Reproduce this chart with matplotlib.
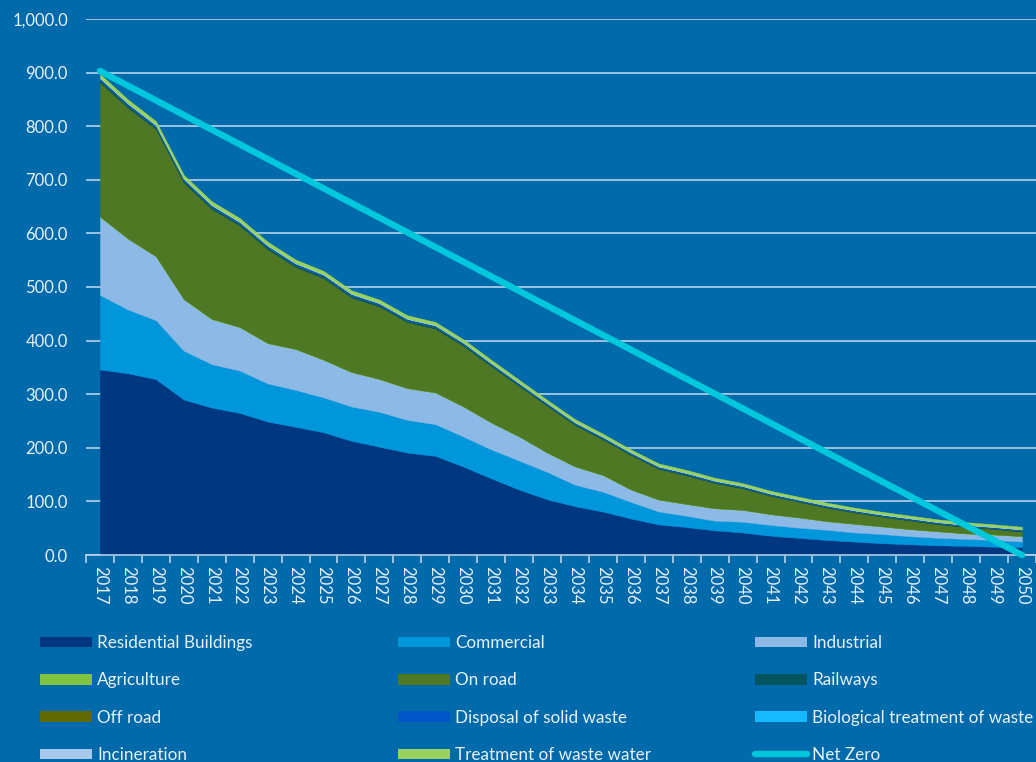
import numpy as np
import matplotlib.pyplot as plt
from matplotlib.patches import Patch
from matplotlib.lines import Line2D
from matplotlib.ticker import FuncFormatter

plt.rcParams['font.family'] = ['Lato', 'DejaVu Sans']

# emissions by sector, stacked in this order
years = list(range(2017, 2051))

residential = [346, 339, 328, 290, 275, 265, 249, 239, 229, 213, 202, 191, 185, 165, 143, 122, 104,
               91, 81, 68, 57, 52, 46, 42, 36, 32, 28, 25, 22, 20, 18, 17, 15.5, 14.5]
commercial = [139, 119, 110, 91, 81, 79, 71, 69, 65, 64, 65, 61, 59, 56, 54, 54, 51,
              40, 37, 31, 24, 21, 18, 20, 20, 19, 19, 17, 17, 15, 14, 13, 12.5, 10.5]
industrial = [146, 132, 119, 96, 84, 81, 75, 76, 70, 64, 61, 59, 59, 56, 50, 45, 36,
              34, 31, 23, 22, 22, 23, 22, 20, 19, 16, 16, 14, 13, 12, 10, 10, 10]
agriculture = [0.6, 0.6, 0.6, 0.5, 0.5, 0.5, 0.5, 0.5, 0.5, 0.5, 0.5, 0.5, 0.4, 0.4, 0.4, 0.4, 0.4,
               0.4, 0.4, 0.4, 0.4, 0.3, 0.3, 0.3, 0.3, 0.3, 0.3, 0.3, 0.3, 0.3, 0.3, 0.3, 0.3, 0.3]
on_road = [250, 244, 237, 217, 205, 189, 175, 153, 152, 139, 135, 123, 119, 113, 105, 94, 87,
           77, 66, 64, 57, 53, 47, 40, 34, 29, 25, 21, 18, 16, 13, 12, 10, 8.5]
railways = [3.0, 2.9, 2.9, 2.8, 2.8, 2.7, 2.7, 2.6, 2.6, 2.6, 2.5, 2.4, 2.4, 2.3, 2.2, 2.1, 2.0,
            2.0, 1.9, 1.8, 1.8, 1.7, 1.7, 1.7, 1.6, 1.6, 1.6, 1.5, 1.5, 1.5, 1.5, 1.5, 1.5, 1.5]
off_road = [0.8, 0.8, 0.7, 0.7, 0.7, 0.6, 0.6, 0.6, 0.6, 0.6, 0.5, 0.5, 0.5, 0.5, 0.5, 0.4, 0.4,
            0.4, 0.4, 0.4, 0.4, 0.4, 0.3, 0.3, 0.3, 0.3, 0.3, 0.3, 0.3, 0.3, 0.3, 0.3, 0.3, 0.3]
solid_waste = [4.0, 3.8, 3.7, 3.6, 3.5, 3.5, 3.4, 3.3, 3.3, 3.2, 3.1, 3.0, 2.9, 2.8, 2.7, 2.6, 2.6,
               2.5, 2.4, 2.4, 2.3, 2.3, 2.2, 2.2, 2.1, 2.1, 2.1, 2.0, 2.0, 2.0, 2.0, 1.9, 1.9, 1.9]
biological = [0.3, 0.3, 0.3, 0.3, 0.3, 0.3, 0.3, 0.3, 0.3, 0.3, 0.3, 0.3, 0.3, 0.3, 0.3, 0.3, 0.3,
              0.3, 0.3, 0.3, 0.3, 0.3, 0.3, 0.3, 0.3, 0.3, 0.3, 0.3, 0.3, 0.3, 0.3, 0.3, 0.3, 0.3]
incineration = [0.3, 0.3, 0.3, 0.3, 0.3, 0.3, 0.3, 0.3, 0.3, 0.3, 0.3, 0.3, 0.3, 0.3, 0.3, 0.3, 0.3,
                0.3, 0.3, 0.3, 0.3, 0.3, 0.3, 0.3, 0.3, 0.3, 0.3, 0.3, 0.3, 0.3, 0.3, 0.3, 0.3, 0.3]
waste_water = [7.5, 7.3, 7.2, 7.0, 6.9, 6.8, 6.7, 6.6, 6.5, 6.4, 6.3, 6.2, 6.1, 6.0, 5.9, 5.8, 5.7,
               5.6, 5.5, 5.4, 5.3, 5.2, 5.1, 5.0, 5.0, 4.9, 4.9, 4.8, 4.8, 4.7, 4.7, 4.6, 4.6, 4.6]

net_zero_years = [2017, 2050]
net_zero = [903, 0]

labels = ['Residential Buildings', 'Commercial', 'Industrial', 'Agriculture', 'On road',
          'Railways', 'Off road', 'Disposal of solid waste', 'Biological treatment of waste',
          'Incineration', 'Treatment of waste water']
colors = ['#003780', '#0096DC', '#8CB9E6', '#82C341', '#4E7824', '#045560', '#5F6A05',
          '#0055C8', '#14B9FF', '#A5C8EB', '#9BD25F']
values = [residential, commercial, industrial, agriculture, on_road, railways, off_road,
          solid_waste, biological, incineration, waste_water]

BG = '#006AAA'
TXT = '#E8F0F8'
GRID = '#C5DBEF'
NZ = '#00C8DC'

fig = plt.figure(figsize=(10.36, 7.62), dpi=100, facecolor=BG)
ax = fig.add_axes([86 / 1036, 207 / 762, 950 / 1036, 536 / 762])
ax.set_facecolor(BG)

polys = ax.stackplot(years, *values, colors=colors, zorder=2)
for p, c in zip(polys, colors):
    p.set_edgecolor(c)
    p.set_linewidth(0.3)

ax.plot(net_zero_years, net_zero, color=NZ, lw=4.6, solid_capstyle='round',
        clip_on=False, zorder=5)

ax.set_xlim(2016.5, 2050.29)
ax.set_ylim(0, 1000)

ax.set_yticks(np.arange(0, 1001, 100))
ax.yaxis.set_major_formatter(FuncFormatter(lambda v, _: f'{v:,.1f}'))
ax.yaxis.grid(True, color=GRID, lw=1.1)
ax.set_axisbelow(True)
for s in ['top', 'left', 'right']:
    ax.spines[s].set_visible(False)
ax.spines['bottom'].set_color(GRID)
ax.spines['bottom'].set_linewidth(1.1)
ax.spines['bottom'].set_zorder(3)
ax.tick_params(axis='y', length=0, pad=13, labelsize=12, labelcolor=TXT)

ax.set_xticks(years)
ax.set_xticklabels([str(y) for y in years], rotation=270)
ax.set_xticks(np.arange(2016.5, 2050.6, 1), minor=True)
ax.tick_params(axis='x', which='major', length=0, pad=8, labelsize=12, labelcolor=TXT)
ax.tick_params(axis='x', which='minor', length=6, width=1.1, color=GRID)

# legend: three columns, filled row by row
handles = [Patch(facecolor=c, edgecolor='none', label=l) for c, l in zip(colors, labels)]
handles.append(Line2D([0], [0], color=NZ, lw=4.6, solid_capstyle='round', label='Net Zero'))
col_x = [40, 398, 755]
for i, x in enumerate(col_x):
    fig.legend(handles=handles[i::3], loc='upper left',
               bbox_to_anchor=(x / 1036, 1 - 635 / 762), frameon=False,
               fontsize=12.3, labelcolor=TXT, handlelength=3.04, handleheight=0.58,
               handletextpad=0.3, labelspacing=1.25, borderpad=0, borderaxespad=0)

fig.savefig('out.png', dpi=100, facecolor=BG)
